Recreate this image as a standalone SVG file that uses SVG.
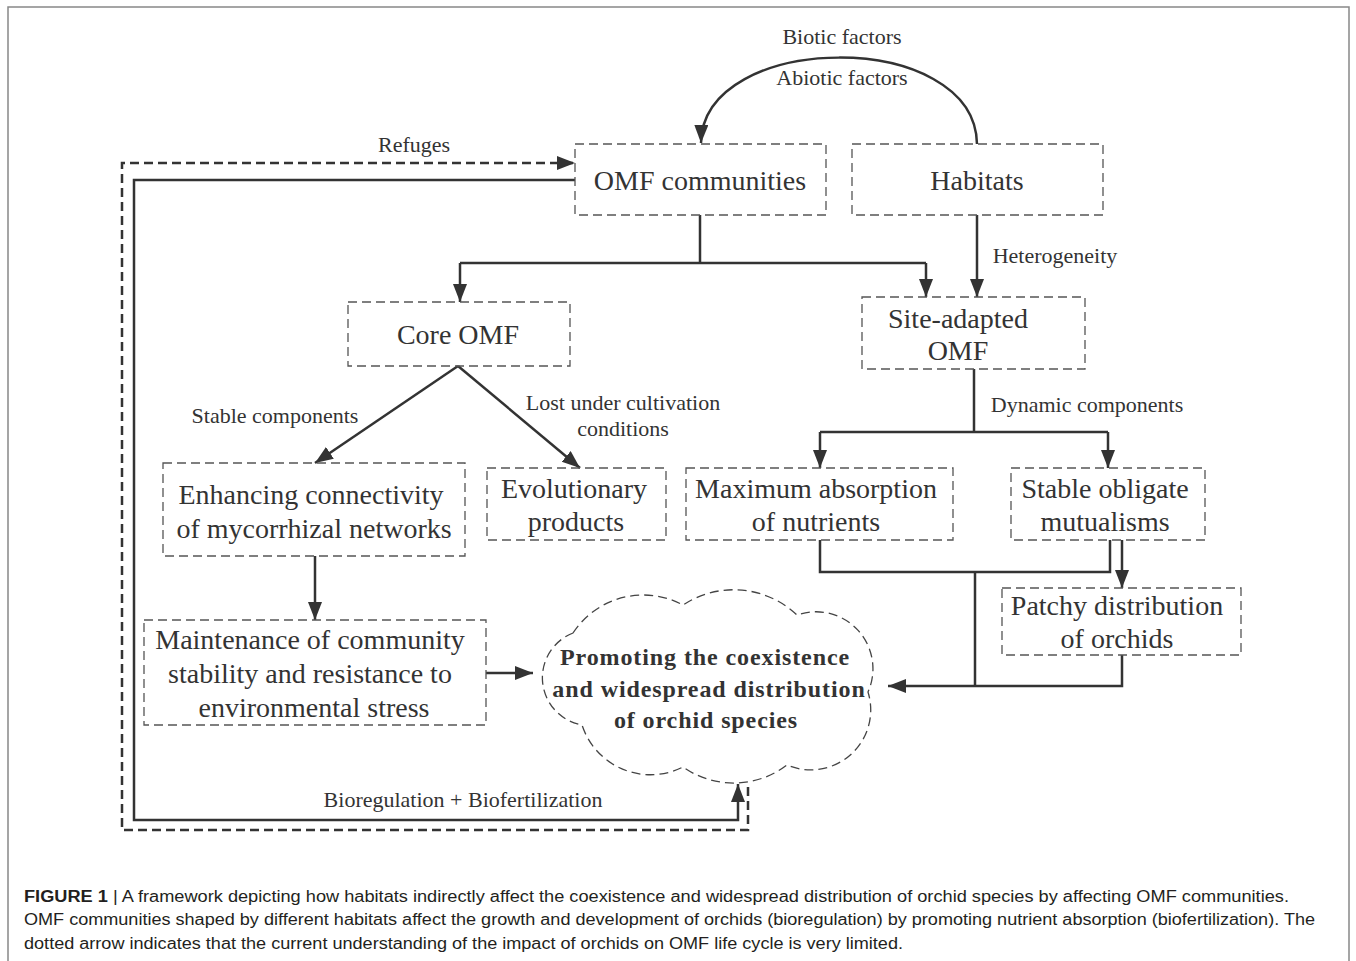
<svg xmlns="http://www.w3.org/2000/svg" width="1356" height="961" viewBox="0 0 1356 961">
<style>
.box{fill:none;stroke:#555;stroke-width:1.3;stroke-dasharray:9 5}
.t{font-family:"Liberation Serif","Times New Roman",serif;font-size:28px;fill:#333;text-anchor:middle}
.l{font-family:"Liberation Serif","Times New Roman",serif;font-size:22px;fill:#333;text-anchor:middle}
.b{font-family:"Liberation Serif","Times New Roman",serif;font-size:24px;font-weight:bold;fill:#333;text-anchor:middle;letter-spacing:0.9px}
.c{fill:none;stroke:#333;stroke-width:2.5}
.d{fill:none;stroke:#333;stroke-width:2.5;stroke-dasharray:9 5}
.cap{font-family:"Liberation Sans",Arial,sans-serif;font-size:16px;fill:#231f20}
</style>
<defs>
<marker id="ah" markerUnits="userSpaceOnUse" markerWidth="20" markerHeight="16" refX="18" refY="7" orient="auto">
<path d="M0,0 L18,7 L0,14 Z" fill="#333"/>
</marker>
</defs>
<rect width="1356" height="961" fill="#fff"/>
<path d="M8,961 V7 H1349 V961" fill="none" stroke="#888" stroke-width="1.5"/>

<g id="connectors">
<path class="c" d="M977,144 C975,28 703,30 701,143" marker-end="url(#ah)"/>
<path class="c" d="M700,215 V263"/>
<path class="c" d="M460,263 H926"/>
<path class="c" d="M460,263 V302" marker-end="url(#ah)"/>
<path class="c" d="M926,263 V297" marker-end="url(#ah)"/>
<path class="c" d="M977,215 V297" marker-end="url(#ah)"/>
<path class="c" d="M458,366 L315,463" marker-end="url(#ah)"/>
<path class="c" d="M458,366 L580,468" marker-end="url(#ah)"/>
<path class="c" d="M974,369 V432"/>
<path class="c" d="M820,432 H1108"/>
<path class="c" d="M820,432 V468" marker-end="url(#ah)"/>
<path class="c" d="M1108,432 V468" marker-end="url(#ah)"/>
<path class="c" d="M820,540 V572 H1110 V540"/>
<path class="c" d="M1122,540 V588" marker-end="url(#ah)"/>
<path class="c" d="M975,572 V686"/>
<path class="c" d="M1122,655 V686 H888" marker-end="url(#ah)"/>
<path class="c" d="M315,556 V620" marker-end="url(#ah)"/>
<path class="c" d="M486,673 H533" marker-end="url(#ah)"/>
<path class="c" d="M575,180 H134 V820 H738 V784" marker-end="url(#ah)"/>
<path class="d" d="M748,787 V830 H122 V163 H575" marker-end="url(#ah)"/>
<text class="l" x="842" y="44">Biotic factors</text>
<text class="l" x="842" y="85">Abiotic factors</text>
<text class="l" x="414" y="152">Refuges</text>
<text class="l" x="1055" y="263">Heterogeneity</text>
<text class="l" x="275" y="423">Stable components</text>
<text class="l" x="623" y="410">Lost under cultivation</text>
<text class="l" x="623" y="436">conditions</text>
<text class="l" x="1087" y="412">Dynamic components</text>
<text class="l" x="463" y="807">Bioregulation + Biofertilization</text>
</g>

<g id="omf">
<rect class="box" x="575" y="144" width="251" height="71"/>
<text class="t" x="700" y="190">OMF communities</text>
</g>
<g id="habitats">
<rect class="box" x="852" y="144" width="251" height="71"/>
<text class="t" x="977" y="190">Habitats</text>
</g>
<g id="core">
<rect class="box" x="348" y="302" width="222" height="64"/>
<text class="t" x="458" y="344">Core OMF</text>
</g>
<g id="site">
<rect class="box" x="862" y="297" width="223" height="72"/>
<text class="t" x="958" y="328">Site-adapted</text>
<text class="t" x="958" y="360">OMF</text>
</g>
<g id="enhancing">
<rect class="box" x="163" y="463" width="302" height="93"/>
<text class="t" x="311" y="504">Enhancing connectivity</text>
<text class="t" x="314" y="538">of mycorrhizal networks</text>
</g>
<g id="evolutionary">
<rect class="box" x="487" y="468" width="179" height="72"/>
<text class="t" x="574" y="498">Evolutionary</text>
<text class="t" x="576" y="531">products</text>
</g>
<g id="maximum">
<rect class="box" x="686" y="468" width="267" height="72"/>
<text class="t" x="816" y="498">Maximum absorption</text>
<text class="t" x="816" y="531">of nutrients</text>
</g>
<g id="stable">
<rect class="box" x="1011" y="468" width="194" height="72"/>
<text class="t" x="1105" y="498">Stable obligate</text>
<text class="t" x="1105" y="531">mutualisms</text>
</g>
<g id="patchy">
<rect class="box" x="1002" y="588" width="239" height="67"/>
<text class="t" x="1117" y="615">Patchy distribution</text>
<text class="t" x="1117" y="648">of orchids</text>
</g>
<g id="maintenance">
<rect class="box" x="144" y="620" width="342" height="105"/>
<text class="t" x="310" y="649">Maintenance of community</text>
<text class="t" x="310" y="683">stability and resistance to</text>
<text class="t" x="314" y="717">environmental stress</text>
</g>
<g id="cloud">
<path d="M573,633 A84,84 0 0 1 683,605 A92,92 0 0 1 797,615 A57,57 0 0 1 868,692 A60,60 0 0 1 787,765 A88,88 0 0 1 683,767 A72,72 0 0 1 582,725 A48,48 0 0 1 573,633 Z" fill="none" stroke="#444" stroke-width="1.3" stroke-dasharray="9 5"/>
<text class="b" x="705" y="665">Promoting the coexistence</text>
<text class="b" x="709" y="697">and widespread distribution</text>
<text class="b" x="706" y="728">of orchid species</text>
</g>

<g id="caption">
<text class="cap" x="24" y="902" textLength="1265" lengthAdjust="spacingAndGlyphs"><tspan font-weight="bold">FIGURE 1</tspan> | A framework depicting how habitats indirectly affect the coexistence and widespread distribution of orchid species by affecting OMF communities.</text>
<text class="cap" x="24" y="925" textLength="1291" lengthAdjust="spacingAndGlyphs">OMF communities shaped by different habitats affect the growth and development of orchids (bioregulation) by promoting nutrient absorption (biofertilization). The</text>
<text class="cap" x="24" y="949" textLength="879" lengthAdjust="spacingAndGlyphs">dotted arrow indicates that the current understanding of the impact of orchids on OMF life cycle is very limited.</text>
</g>
</svg>
